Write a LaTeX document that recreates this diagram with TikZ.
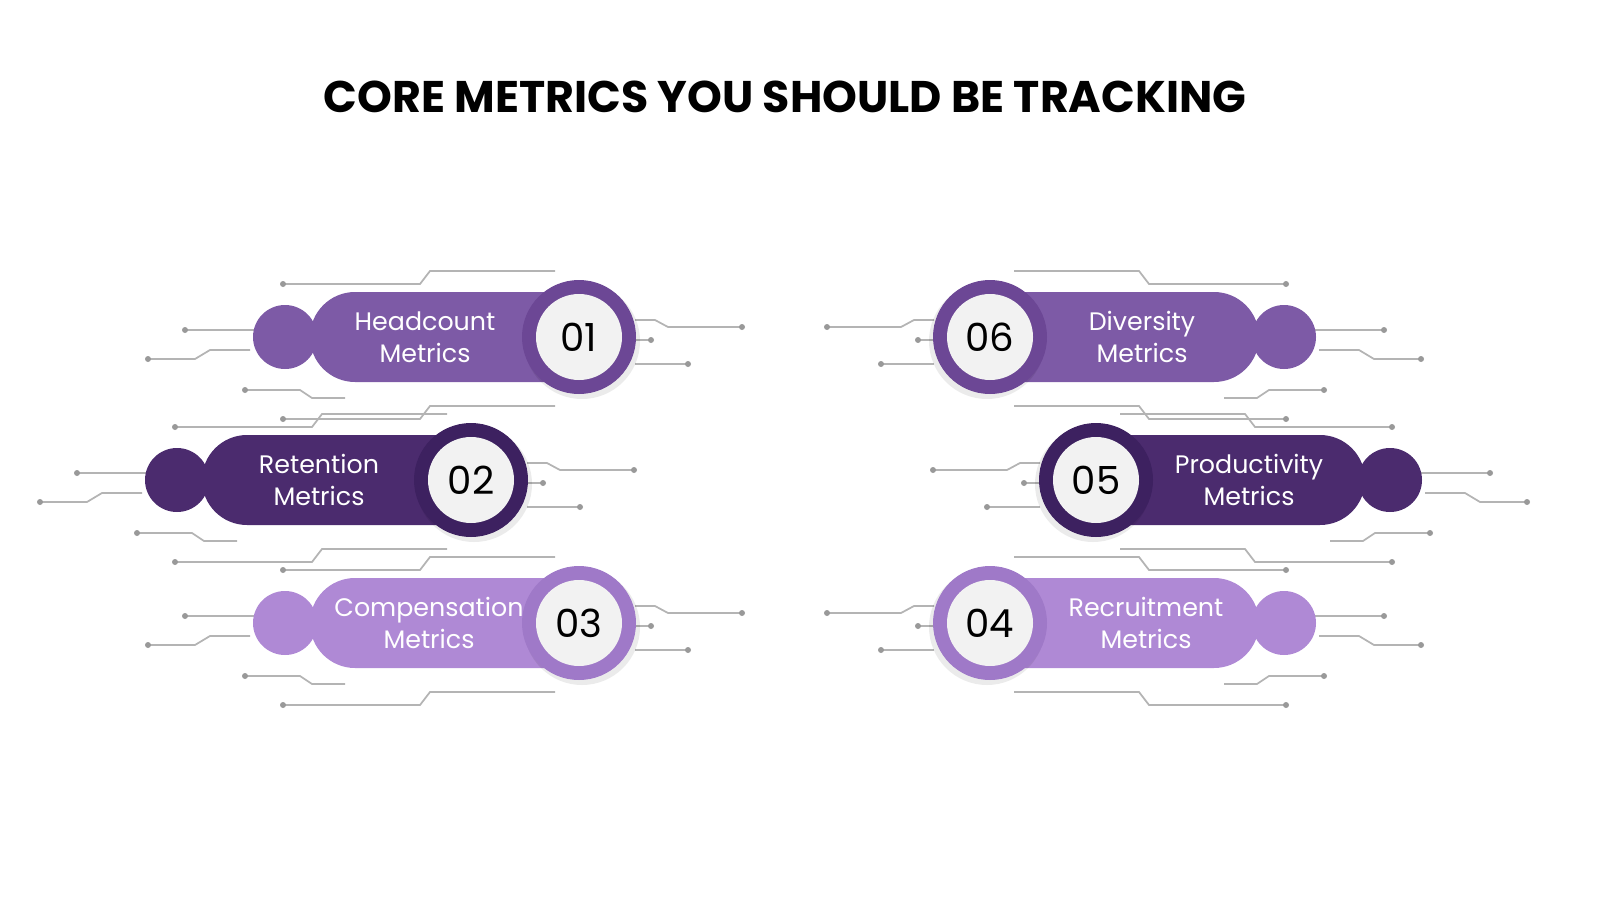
\documentclass[tikz,border=0pt]{standalone}
\usepackage{fontspec}
\setmainfont{Poppins}
\usetikzlibrary{positioning}

\definecolor{midpurple}{HTML}{7D5AA6}
\definecolor{midring}{HTML}{6C4795}
\definecolor{darkpurple}{HTML}{4B2B6E}
\definecolor{darkring}{HTML}{3D2160}
\definecolor{lightpurple}{HTML}{AF89D5}
\definecolor{lightring}{HTML}{9F79C8}
\definecolor{wirecol}{HTML}{B4B4B4}

\tikzset{
  wire/.style={draw=wirecol, line width=0.5pt},
  wiredot/.style={fill=gray!80, draw=none},
  cardtext/.style={text=white, font=\fontsize{7.2}{9.2}\selectfont, align=center},
  numtext/.style={font=\fontsize{11}{11}\selectfont}
}

% #1,#2 centre of number disc, #3 mirror (1 or -1), #4 fill, #5 ring
\newcommand\metriccard[5]{
  \begin{scope}[shift={(#1,#2)}, xscale=#3]
    \draw[wire] (-296,-53) -- (-159,-53) -- (-149,-66) -- (-24,-66);
    \draw[wire] (-394,-7) -- (-324,-7);
    \draw[wire] (-431,22) -- (-384,22) -- (-369,13) -- (-329,13);
    \draw[wire] (-334,53) -- (-279,53) -- (-267,61) -- (-234,61);
    \draw[wire] (-296,82) -- (-159,82) -- (-149,69) -- (-24,69);
    \draw[wire] (56,-17) -- (76,-17) -- (89,-10) -- (163,-10);
    \draw[wire] (56,3) -- (72,3);
    \draw[wire] (56,27) -- (109,27);
    \foreach \p in {(-296,-53),(-394,-7),(-431,22),(-334,53),(-296,82),(163,-10),(72,3),(109,27)}
      \fill[wiredot] \p circle (3);
    \fill[#4] (-294,0) circle (32);
    \fill[#4, rounded corners=0.45cm] (-269,-45) rectangle (40,45);
    \fill[black, opacity=0.08] (3,4) circle (58);
    \fill[#5] (0,0) circle (57);
    \fill[gray!10] (0,0) circle (43);
  \end{scope}
}

\begin{document}
\begin{tikzpicture}[x=0.01cm, y=-0.01cm]
  \useasboundingbox (0,0) rectangle (1600,900);

  \node (title) at (785,97) {\fontsize{12.6}{14}\selectfont\bfseries CORE METRICS YOU SHOULD BE TRACKING};

  \metriccard{579}{337}{1}{midpurple}{midring}
  \metriccard{471}{480}{1}{darkpurple}{darkring}
  \metriccard{579}{623}{1}{lightpurple}{lightring}
  \metriccard{990}{337}{-1}{midpurple}{midring}
  \metriccard{1096}{480}{-1}{darkpurple}{darkring}
  \metriccard{990}{623}{-1}{lightpurple}{lightring}

  \node[numtext] (n01) at (579,337) {01};
  \node[numtext] (n02) at (471,480) {02};
  \node[numtext] (n03) at (579,623) {03};
  \node[numtext] (n06) at (990,337) {06};
  \node[numtext] (n05) at (1096,480) {05};
  \node[numtext] (n04) at (990,623) {04};

  \node[cardtext] (headcount) at (425,337) {Headcount\\Metrics};
  \node[cardtext] (retention) at (319,480) {Retention\\Metrics};
  \node[cardtext] (compensation) at (429,623) {Compensation\\Metrics};
  \node[cardtext] (diversity) at (1142,337) {Diversity\\Metrics};
  \node[cardtext] (productivity) at (1249,480) {Productivity\\Metrics};
  \node[cardtext] (recruitment) at (1146,623) {Recruitment\\Metrics};
\end{tikzpicture}
\end{document}
